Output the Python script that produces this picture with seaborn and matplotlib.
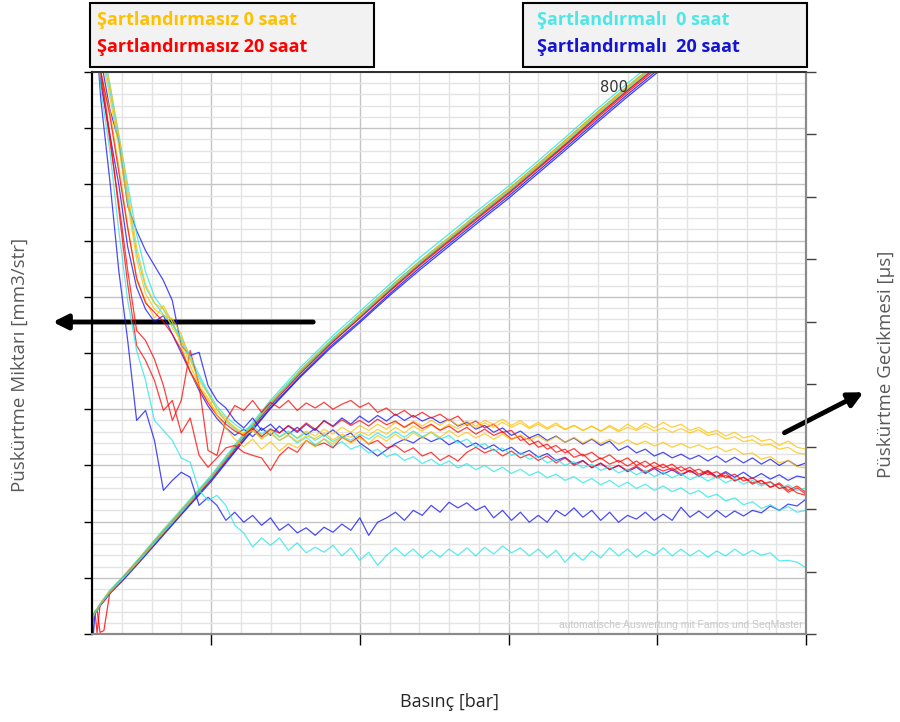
import matplotlib
matplotlib.use("Agg")
import matplotlib.pyplot as plt
import seaborn as sns
from matplotlib.patches import Rectangle

# --- Basınç ekseni (bar) : gecikme eğrileri için örnekleme noktaları
basinc = [0, 30, 60, 90, 120, 150, 180, 210, 240, 270, 300, 330, 360, 390, 420, 450, 480,
          510, 540, 570, 600, 630, 660, 690, 720, 750, 780, 810, 840, 870, 900,
          930, 960, 990, 1020, 1050, 1080, 1110, 1140, 1170, 1200, 1230, 1260, 1290, 1320, 1350,
          1380, 1410, 1440, 1470, 1500, 1530, 1560, 1590, 1620, 1650, 1680, 1710, 1740, 1770, 1800,
          1830, 1860, 1890, 1920, 1950, 1980, 2010,
          2040, 2070, 2100, 2130, 2160, 2190, 2220, 2250, 2280, 2310, 2340, 2370, 2400]

# --- Püskürtme gecikmesi [µs] (sağ eksen)
gec_O1 = [1050, 894, 838, 750, 654, 566, 534, 506, 526, 499, 462, 419, 394, 374, 355, 342, 331,
          322, 330, 317, 326, 315, 323, 314, 325, 317, 328, 320, 331, 323, 334,
          326, 336, 328, 339, 331, 341, 333, 342, 334, 344, 334, 341, 333, 342, 336,
          344, 334, 342, 331, 339, 330, 338, 328, 334, 326, 333, 325, 334, 326, 336, 328, 338, 330, 339, 331, 336, 326,
          331, 322, 326, 317, 323, 314, 318, 309, 312, 302, 309, 299, 296]
gec_O2 = [1050, 930, 860, 780, 690, 600, 545, 520, 510, 505, 480, 440, 405, 385, 360, 345, 330,
          318, 326, 312, 322, 310, 319, 308, 317, 313, 322, 311, 320, 315, 324,
          318, 328, 320, 331, 322, 333, 325, 335, 327, 336, 329, 337, 330, 338, 331,
          339, 331, 338, 329, 336, 328, 335, 327, 334, 326, 333, 325, 332, 324, 331, 326, 333, 325, 330, 323, 329, 322,
          327, 318, 321, 312, 316, 308, 311, 302, 304, 296, 299, 290, 288]
gec_O3 = [1050, 950, 880, 800, 710, 620, 560, 530, 520, 490, 470, 430, 398, 378, 350, 330, 312,
          300, 312, 296, 308, 293, 305, 298, 310, 300, 313, 304, 316, 306, 314,
          305, 318, 309, 320, 310, 322, 313, 324, 315, 326, 316, 323, 314, 321, 312,
          320, 311, 319, 310, 317, 308, 316, 307, 315, 306, 313, 305, 312, 304, 311, 303, 309, 301, 307, 299, 305, 298,
          303, 296, 300, 292, 297, 288, 290, 280, 284, 274, 278, 268, 266]
gec_R1 = [1050, 890, 790, 690, 582, 486, 470, 440, 398, 342, 374, 454, 398, 294, 286, 342, 366,
          358, 374, 355, 371, 362, 374, 358, 370, 362, 371, 360, 368, 374, 363,
          370, 355, 362, 350, 358, 347, 355, 346, 352, 342, 349, 334, 341, 330, 336,
          323, 326, 310, 314, 299, 304, 291, 296, 283, 288, 275, 282, 272, 278, 269, 277, 267, 275, 266, 272, 261, 267,
          256, 262, 251, 258, 245, 251, 240, 246, 235, 242, 230, 237, 227]
gec_R2 = [1050, 900, 800, 680, 560, 462, 438, 406, 358, 374, 322, 346, 286, 267, 282, 298, 302,
          291, 286, 282, 262, 286, 299, 291, 310, 301, 306, 298, 315, 307, 317,
          304, 310, 298, 302, 291, 298, 285, 291, 278, 286, 277, 291, 299, 290, 296,
          285, 293, 282, 288, 278, 285, 274, 282, 270, 277, 267, 274, 264, 270, 262, 269, 259, 267, 261, 266, 256, 262,
          253, 259, 250, 254, 246, 251, 242, 246, 235, 240, 227, 234, 224]
gec_R3 = [1050, 900, 830, 740, 650, 570, 530, 515, 500, 480, 455, 420, 395, 370, 350, 336, 325,
          318, 330, 316, 328, 322, 334, 325, 338, 328, 341, 332, 343, 334, 342,
          333, 344, 335, 341, 331, 339, 329, 336, 326, 333, 323, 331, 320, 328, 318,
          324, 312, 317, 303, 309, 296, 302, 290, 297, 285, 291, 280, 287, 275, 282, 270, 277, 266, 272, 262, 268, 259,
          264, 255, 260, 250, 256, 245, 250, 240, 244, 233, 236, 226, 222]
gec_B1 = [1050, 920, 840, 790, 686, 646, 614, 590, 566, 534, 462, 446, 451, 398, 374, 362, 342,
          330, 346, 326, 336, 322, 333, 323, 336, 326, 342, 333, 346, 336, 349,
          339, 350, 341, 352, 342, 350, 341, 347, 338, 344, 333, 339, 328, 334, 323,
          330, 318, 325, 314, 320, 310, 317, 307, 314, 304, 312, 302, 309, 294, 301, 290, 296, 285, 291, 282, 288, 280,
          286, 277, 285, 275, 283, 274, 282, 272, 280, 270, 278, 269, 274]
gec_B2 = [1050, 880, 800, 720, 620, 555, 520, 500, 510, 480, 450, 420, 390, 365, 345, 330, 318,
          328, 316, 330, 318, 333, 320, 331, 319, 329, 317, 327, 315, 322, 306,
          296, 285, 295, 305, 312, 306, 316, 308, 314, 303, 310, 299, 306, 296, 303,
          293, 299, 288, 294, 283, 289, 278, 283, 272, 278, 266, 273, 263, 270, 260, 267, 257, 265, 256, 263, 254, 262,
          253, 261, 252, 260, 251, 259, 249, 257, 248, 255, 246, 253, 250]
gec_B3 = [1050, 854, 726, 582, 470, 342, 358, 310, 230, 246, 259, 251, 206, 219, 206, 182, 195,
          179, 190, 174, 186, 166, 176, 162, 170, 158, 171, 163, 176, 166, 186,
          158, 179, 186, 195, 182, 198, 190, 206, 195, 211, 202, 210, 198, 205, 186,
          198, 182, 195, 179, 190, 179, 198, 189, 202, 187, 198, 182, 195, 179, 190, 184, 195, 182, 192, 182, 203, 187,
          197, 186, 198, 187, 197, 189, 198, 194, 205, 198, 208, 205, 216]
gec_C1 = [1050, 960, 880, 800, 720, 640, 580, 540, 520, 500, 470, 440, 410, 385, 360, 340, 328,
          318, 326, 314, 322, 310, 318, 306, 315, 303, 312, 300, 308, 296, 302,
          290, 296, 284, 289, 278, 284, 273, 280, 270, 277, 266, 273, 263, 270, 260,
          267, 257, 264, 254, 260, 250, 256, 246, 252, 242, 249, 239, 246, 236, 243, 233, 240, 230, 237, 228, 234, 224,
          230, 219, 224, 213, 218, 207, 212, 201, 207, 198, 204, 195, 198]
gec_C2 = [1050, 940, 870, 790, 700, 610, 555, 530, 512, 495, 475, 445, 415, 388, 365, 348, 336,
          326, 334, 320, 329, 316, 325, 313, 322, 310, 319, 308, 317, 310, 320,
          312, 322, 314, 324, 315, 325, 316, 323, 312, 318, 306, 312, 300, 305, 293,
          298, 286, 290, 280, 285, 274, 280, 270, 276, 266, 272, 262, 268, 258, 264, 255, 262, 252, 259, 250, 257, 247,
          254, 245, 252, 242, 249, 240, 246, 237, 243, 233, 239, 230, 234]
gec_C3 = [1050, 870, 774, 646, 534, 454, 406, 342, 326, 310, 282, 275, 230, 214, 222, 206, 174,
          162, 139, 154, 142, 154, 134, 146, 130, 139, 131, 142, 125, 138, 118,
          131, 110, 126, 138, 125, 136, 122, 134, 123, 136, 126, 138, 125, 139, 128,
          141, 130, 138, 125, 136, 122, 134, 115, 130, 118, 133, 122, 138, 125, 136, 123, 134, 126, 138, 125, 136, 125,
          134, 123, 133, 125, 136, 126, 134, 126, 130, 117, 118, 115, 106]

# --- Püskürtme miktarı [mm3/str] (sol eksen)
basinc_m = [0, 5, 10, 17, 27, 40, 60, 100, 160, 230, 300, 400, 500, 600, 700, 800, 900, 1000,
            1100, 1200, 1300, 1400, 1500, 1600, 1700, 1800, 1900, 2000]
mik_O1 = [2.6, 3.3, 4.0, 4.5, 5.3, 6.3, 7.7, 9.9, 13.5, 17.8, 22.0, 28.0, 34.7, 41.2, 46.9, 52.1, 56.9, 61.7,
          66.3, 70.6, 74.9, 79.2, 83.7, 88.3, 93.0, 97.5, 101.8, 106.0]
mik_O2 = [2.4, 3.1, 3.8, 4.2, 5.1, 6.0, 7.4, 9.6, 13.1, 17.4, 21.6, 27.7, 34.5, 41.0, 46.7, 51.9, 56.6, 61.4,
          66.0, 70.3, 74.6, 78.8, 83.4, 88.0, 92.7, 97.2, 101.5, 105.7]
mik_O3 = [2.5, 3.2, 4.0, 4.4, 5.3, 6.2, 7.6, 9.8, 13.3, 17.6, 21.8, 27.9, 34.6, 41.1, 46.8, 52.0, 56.7, 61.5,
          66.1, 70.5, 74.8, 79.0, 83.5, 88.1, 92.8, 97.3, 101.6, 105.8]
mik_R1 = [0.3, 3.3, 3.9, 0.2, 5.1, 6.0, 7.4, 9.6, 13.1, 17.4, 21.6, 27.6, 34.3, 40.8, 46.5, 51.6, 56.3, 61.1,
          65.7, 70.0, 74.3, 78.5, 83.0, 87.5, 92.2, 96.7, 101.0, 105.2]
mik_R2 = [2.4, 3.1, 3.8, 4.2, 0.3, 0.6, 7.4, 9.7, 13.2, 17.5, 21.7, 27.7, 34.3, 40.7, 46.3, 51.5, 56.2, 60.9,
          65.5, 69.8, 74.1, 78.3, 82.8, 87.3, 91.9, 96.4, 100.7, 104.9]
mik_R3 = [2.6, 3.2, 4.0, 4.3, 5.2, 6.1, 7.5, 9.8, 13.3, 17.6, 21.8, 27.8, 34.5, 40.9, 46.6, 51.7, 56.4, 61.2,
          65.8, 70.1, 74.4, 78.6, 83.1, 87.6, 92.3, 96.8, 101.1, 105.3]
mik_B1 = [2.4, 3.0, 3.7, 4.2, 5.0, 5.8, 7.2, 9.3, 12.8, 17.0, 21.2, 27.1, 33.7, 40.1, 45.7, 50.8, 55.4, 60.2,
          64.7, 69.0, 73.3, 77.5, 82.0, 86.5, 91.1, 95.6, 99.9, 104.1]
mik_B2 = [2.5, 3.1, 3.9, 4.3, 5.1, 6.0, 7.5, 9.7, 13.2, 17.5, 21.7, 27.8, 34.5, 41.0, 46.8, 52.0, 56.8, 61.6,
          66.2, 70.5, 74.9, 79.1, 83.6, 88.2, 92.9, 97.4, 101.7, 105.9]
mik_B3 = [2.3, 0.2, 3.8, 4.2, 5.1, 6.0, 7.3, 9.5, 13.0, 17.2, 21.4, 27.4, 33.9, 40.3, 45.9, 51.1, 55.7, 60.5,
          65.1, 69.4, 73.7, 77.9, 82.4, 86.9, 91.5, 96.0, 100.3, 104.5]
mik_C1 = [2.6, 3.3, 4.1, 4.5, 5.4, 6.3, 7.8, 10.0, 13.6, 18.0, 22.2, 28.2, 35.0, 41.6, 47.4, 52.6, 57.4, 62.2,
          66.9, 71.2, 75.5, 79.7, 84.2, 88.8, 93.5, 98.0, 102.3, 106.5]
mik_C2 = [2.5, 3.2, 3.9, 4.4, 5.2, 6.2, 7.6, 9.8, 13.4, 17.7, 21.9, 28.0, 34.7, 41.2, 46.9, 52.1, 56.8, 61.6,
          66.2, 70.5, 74.8, 79.0, 83.5, 88.1, 92.8, 97.3, 101.6, 105.8]
mik_C3 = [2.4, 3.2, 3.9, 4.3, 5.2, 6.1, 7.5, 9.7, 13.2, 17.5, 21.7, 27.8, 34.5, 40.9, 46.6, 51.8, 56.5, 61.3,
          65.9, 70.2, 74.5, 78.7, 83.2, 87.8, 92.5, 97.0, 101.3, 105.5]

# dikey mavi referans çizgisi
dikey_x = [13, 13]
dikey_y = [0, 100]

TURUNCU, KIRMIZI, MAVI, CAMGOBEGI = '#FFC000', '#FF0000', '#1010F5', '#22E6E6'
seriler = [
    (MAVI, mik_B1, gec_B1), (MAVI, mik_B2, gec_B2), (MAVI, mik_B3, gec_B3),
    (CAMGOBEGI, mik_C1, gec_C1), (KIRMIZI, mik_R1, gec_R1), (TURUNCU, mik_O1, gec_O1),
    (KIRMIZI, mik_R2, gec_R2), (CAMGOBEGI, mik_C2, gec_C2), (TURUNCU, mik_O2, gec_O2),
    (KIRMIZI, mik_R3, gec_R3), (TURUNCU, mik_O3, gec_O3), (CAMGOBEGI, mik_C3, gec_C3),
]

sns.set_style("white")
plt.rcParams['font.family'] = ['Open Sans', 'DejaVu Sans']

W, H = 900, 722
fig = plt.figure(figsize=(W / 100, H / 100), dpi=100)
ax = fig.add_axes([92 / W, 88 / H, 714 / W, 562 / H])
ax2 = ax.twinx()

ax.set_xlim(0, 2400)
ax.set_ylim(0, 100)
ax2.set_ylim(0, 900)

# ızgara
ax.set_xticks([400, 900, 1400, 1900, 2400])
ax.set_xticks(range(0, 2401, 100), minor=True)
ax.set_yticks(range(0, 101, 10))
ax.set_yticks(range(0, 101, 2), minor=True)
ax.set_axisbelow(True)
ax.grid(which='minor', color='#e4e4e4', lw=1.0)
ax.grid(which='major', color='#c4c4c4', lw=1.0)
ax.tick_params(axis='x', which='major', bottom=True, direction='out', length=8, width=1,
               color='black', labelbottom=False)
ax.tick_params(axis='y', which='major', left=True, direction='out', length=6, width=1,
               color='black', labelleft=False)
ax.tick_params(which='minor', length=0)
ax2.set_yticks(range(0, 901, 100))
ax2.tick_params(axis='y', right=True, direction='out', length=7, width=1, color='#404040',
                labelright=False)

for sp, (c, w) in {'left': ('black', 1.5), 'top': ('#303030', 1.3),
                   'right': ('#8a8a8a', 1.5), 'bottom': ('#8a8a8a', 1.5)}.items():
    ax.spines[sp].set_color(c)
    ax.spines[sp].set_linewidth(w)
    ax2.spines[sp].set_color(c)
    ax2.spines[sp].set_linewidth(w)

# eğriler
for renk, mik, gec in seriler:
    sns.lineplot(x=basinc_m, y=mik, ax=ax, color=renk, lw=0.9, alpha=0.8, sort=False,
                 legend=False, errorbar=None)
for renk, mik, gec in seriler:
    sns.lineplot(x=basinc, y=gec, ax=ax2, color=renk, lw=0.9, alpha=0.75, sort=False,
                 legend=False, errorbar=None)
sns.lineplot(x=dikey_x, y=dikey_y, ax=ax, color='#0000FF', lw=1.0, sort=False,
             legend=False, errorbar=None)
ax.set_xlabel('')
ax.set_ylabel('')
ax2.set_ylabel('')

ax.text(1707, 97.3, '800', fontsize=10.5, color='#333333', ha='left', va='center',
        family='DejaVu Sans')

# lejant kutuları
for x0 in (90, 523):
    fig.patches.append(Rectangle((x0 / W, (H - 67) / H), 284 / W, 64 / H, transform=fig.transFigure,
                                 facecolor='#f2f2f2', edgecolor='black', lw=1.5))
fig.text(97 / W, (H - 20) / H, 'Şartlandırmasız 0 saat', color=TURUNCU, fontsize=13,
         fontweight='bold', va='center')
fig.text(97 / W, (H - 47) / H, 'Şartlandırmasız 20 saat', color='#FF0000', fontsize=13,
         fontweight='bold', va='center')
fig.text(537 / W, (H - 20) / H, 'Şartlandırmalı  0 saat', color='#4FE6E6', fontsize=13,
         fontweight='bold', va='center')
fig.text(537 / W, (H - 47) / H, 'Şartlandırmalı  20 saat', color='#1414D2', fontsize=13,
         fontweight='bold', va='center')

# eksen başlıkları
fig.text(20 / W, (H - 365) / H, 'Püskürtme Miktarı [mm3/str]', rotation=90, color='#595959',
         fontsize=13.5, ha='center', va='center')
fig.text(886 / W, (H - 364) / H, 'Püskürtme Gecikmesi [µs]', rotation=90, color='#595959',
         fontsize=13.5, ha='center', va='center')
fig.text(449 / W, (H - 702) / H, 'Basınç [bar]', color='#262626', fontsize=13,
         ha='center', va='center')

fig.text(803 / W, (H - 625) / H, 'automatische Auswertung mit Famos und SeqMaster',
         color='#c8c8c8', fontsize=7.5, ha='right', va='center', family='Liberation Sans')

# oklar
ok = dict(arrowstyle='-|>', lw=3.5, color='black', mutation_scale=22)
ax.annotate('', xy=(50, H - 322), xytext=(316, H - 322), xycoords='figure pixels',
            textcoords='figure pixels', arrowprops=ok, annotation_clip=False)
ax.annotate('', xy=(866, H - 391), xytext=(782, H - 434), xycoords='figure pixels',
            textcoords='figure pixels', arrowprops=ok, annotation_clip=False)

fig.savefig('out.png', dpi=100)
